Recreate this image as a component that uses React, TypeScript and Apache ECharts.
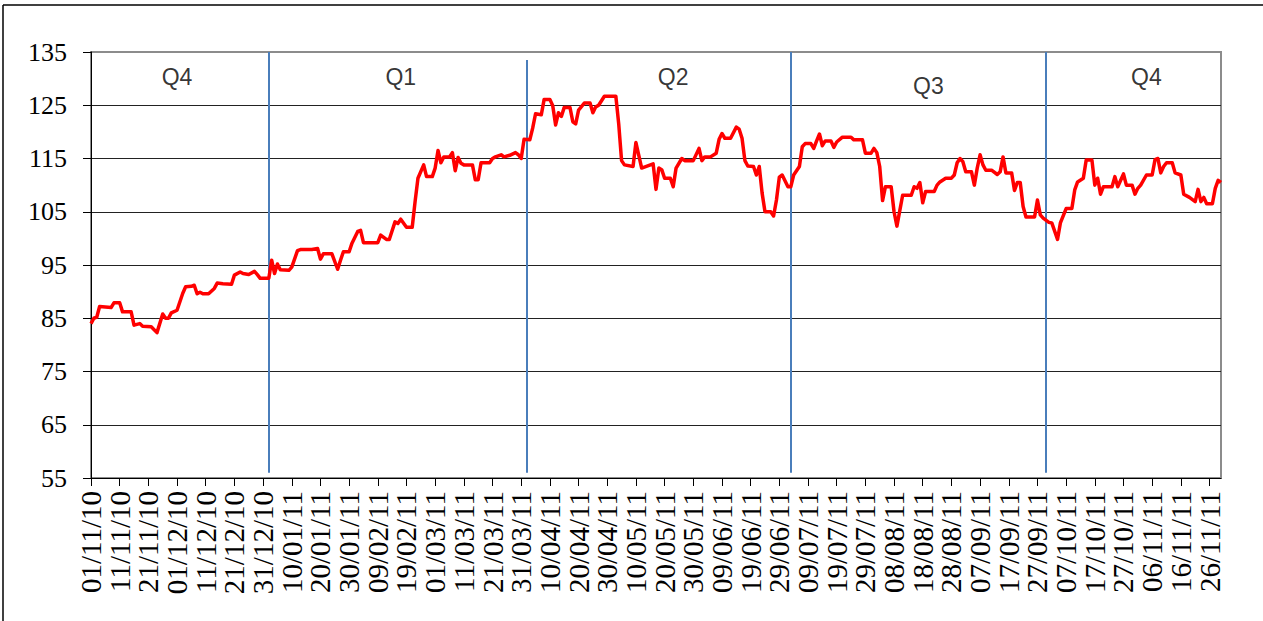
import React, { useEffect, useRef } from "react";
import * as echarts from "echarts";

// Axis: daily categories from 01/11/10, 395 days (to 30/11/11)
const START_DATE = Date.UTC(2010, 10, 1);
const DAY_COUNT = 395;
const pad = (n: number) => (n < 10 ? "0" + n : "" + n);
const categories: string[] = [];
for (let i = 0; i < DAY_COUNT; i++) {
  const d = new Date(START_DATE + i * 86400000);
  categories.push(
    pad(d.getUTCDate()) + "/" + pad(d.getUTCMonth() + 1) + "/" + pad(d.getUTCFullYear() % 100)
  );
}
const LABEL_EVERY = 10;

// Series: day index (from 01/11/10) and index value
const pointDays = [
  0, 1, 2, 3, 7, 8, 10, 11, 14, 15, 17, 18, 21, 23, 25, 26, 27, 28, 30, 32, 33, 35, 36, 37, 38, 39, 41, 43, 44, 46, 49,
  50, 52, 53, 55, 57, 58, 59, 62, 63, 64, 65, 66, 69, 70, 72, 73, 77, 79, 80, 81, 84, 86, 87, 88, 90, 91, 93, 94, 95,
  100, 101, 103, 104, 106, 107, 108, 110, 112, 113, 114, 116, 117, 119, 120, 121, 122, 123, 125, 126, 127, 128, 129,
  130, 133, 134, 135, 136, 139, 140, 141, 143, 144, 146, 148, 149, 150, 151, 153, 154, 155, 157, 158, 160, 161, 162,
  163, 164, 165, 167, 168, 169, 170, 172, 174, 175, 176, 177, 179, 183, 184, 185, 186, 189, 190, 192, 196, 197, 198,
  199, 200, 202, 203, 204, 206, 207, 210, 212, 213, 214, 216, 218, 219, 220, 221, 223, 225, 226, 227, 228, 229, 231,
  232, 233, 234, 235, 237, 238, 239, 240, 241, 243, 244, 245, 247, 248, 249, 251, 252, 253, 254, 255, 256, 258, 259,
  260, 262, 265, 266, 269, 270, 272, 273, 274, 275, 276, 277, 279, 280, 281, 283, 286, 287, 288, 289, 290, 291, 294,
  295, 296, 298, 300, 301, 302, 303, 304, 305, 307, 308, 309, 310, 311, 312, 314, 316, 317, 318, 319, 321, 322, 323,
  324, 325, 326, 329, 330, 331, 332, 334, 335, 337, 338, 340, 342, 343, 344, 346, 347, 349, 350, 351, 352, 353, 356,
  357, 358, 360, 361, 363, 364, 365, 366, 368, 370, 371, 372, 373, 374, 375, 377, 378, 380, 381, 383, 385, 386, 387,
  388, 389, 391, 392, 393, 394,
];
const pointValues = [
  84.0, 85.0, 85.2, 87.2, 87.0, 87.9, 87.9, 86.2, 86.2, 83.7, 84.0, 83.5, 83.4, 82.3, 85.8, 85.0, 85.0, 86.0, 86.5,
  89.7, 90.9, 91.0, 91.2, 89.6, 89.9, 89.6, 89.6, 90.6, 91.6, 91.5, 91.4,
  93.1, 93.7, 93.4, 93.2, 93.8, 93.2, 92.5, 92.5, 95.9, 93.4, 95.2, 94.1, 94.0, 94.6, 97.7, 97.9, 97.9, 98.1, 96.1,
  97.1, 97.1, 94.2, 95.9, 97.5, 97.5, 99.1, 101.3, 101.5, 99.2,
  99.2, 100.6, 99.8, 99.8, 103.1, 102.8, 103.6, 102.1, 102.1, 106.9, 111.3, 113.8, 111.6, 111.6, 113.2, 116.5, 114.2,
  115.3, 115.3, 116.1, 112.7, 115.2, 114.1,
  113.8, 113.8, 111.0, 111.0, 114.2, 114.2, 115.0, 115.3, 115.7, 115.3, 115.6, 116.1, 115.7, 115.0, 118.6, 118.5,
  120.7, 123.4, 123.2, 126.1, 126.1, 124.9, 121.3,
  123.6, 122.9, 124.6, 124.6, 121.9, 121.5, 124.1, 125.4, 125.4, 123.6, 124.7, 125.0, 126.7, 126.7, 121.5, 114.6,
  113.8, 113.5, 118.0, 113.2, 114.0, 109.2, 113.2,
  112.9, 111.3, 111.3, 109.7, 113.2, 115.0, 114.6, 114.6, 116.9, 114.6, 115.3, 115.3, 116.0, 118.6, 119.7, 118.8,
  118.8, 120.9, 120.5, 118.8, 114.6, 113.6, 113.5,
  111.9, 113.5, 108.5, 105.0, 105.0, 104.2, 107.2, 111.5, 111.9, 109.7, 109.7, 111.9, 113.5, 117.2, 117.8, 117.8,
  116.9, 118.3, 119.6, 117.4, 118.3, 118.3, 117.1,
  118.1, 119.0, 119.0, 118.5, 118.5, 116.0, 116.0, 116.9, 116.1, 113.5, 107.1, 109.7, 109.7, 105.0, 102.3, 108.1,
  108.1, 109.7, 109.4, 110.5, 106.7, 108.8, 108.8,
  110.0, 110.6, 111.3, 111.3, 111.9, 114.2, 115.0, 114.4, 112.5, 112.5, 110.0, 113.2, 115.7, 113.8, 112.8, 112.8,
  112.0, 112.5, 115.3, 112.3, 112.3, 109.0, 110.5,
  110.5, 106.0, 104.0, 104.0, 107.2, 104.4, 103.8, 103.0, 102.9, 99.8, 102.9, 105.6, 105.6, 109.1, 110.6, 111.3,
  114.7, 114.7, 110.0, 111.3, 108.3, 109.7, 109.7,
  111.6, 109.7, 112.1, 110.0, 110.0, 108.3, 109.4, 110.0, 111.9, 111.9, 114.8, 115.0, 112.3, 113.5, 114.2, 114.2,
  112.3, 111.9, 108.3, 107.7, 106.9, 109.2, 106.9,
  107.7, 106.5, 106.5, 109.4, 110.9, 110.5,
];

// Quarter boundaries (day index) and quarter labels
const quarterLineDays = [62, 152, 244, 333];
const quarterLineTop = [135, 133.5, 135, 135];
const quarterLineBottom = 56;
const quarterNames = ["Q4", "Q1", "Q2", "Q3", "Q4"];
const quarterLabelDays = [30, 108, 203, 292, 368];
const quarterLabelY = [130.3, 130.3, 130.3, 128.6, 130.3];

const yTickMin = 55;
const yTickMax = 135;
const yTickStep = 10;

const SERIF = "Times New Roman, Liberation Serif, DejaVu Serif, serif";
const SANS = "Liberation Sans";

export default function App() {
  const ref = useRef<HTMLDivElement>(null);
  useEffect(() => {
    if (!ref.current) return;
    const chart = echarts.init(ref.current, undefined, { renderer: "svg" });
    const lineData = pointDays.map((d, i) => [d, pointValues[i]]);
    const markData = quarterLineDays.map((d, i) => [
      { coord: [d, quarterLineTop[i]] },
      { coord: [d, quarterLineBottom] },
    ]);
    const qData = quarterNames.map((n, i) => ({
      name: n,
      value: [quarterLabelDays[i], quarterLabelY[i]],
    }));
    const every = (idx: number) => idx % LABEL_EVERY === 0;
    chart.setOption({
      animation: false,
      backgroundColor: "#ffffff",
      textStyle: { fontFamily: SERIF },
      grid: {
        left: 91,
        top: 52,
        right: 42,
        bottom: 143,
        show: true,
        borderColor: "#8c8c8c",
        borderWidth: 2,
        backgroundColor: "transparent",
      },
      xAxis: {
        type: "category",
        data: categories,
        boundaryGap: false,
        axisLine: { lineStyle: { color: "#000", width: 1 } },
        axisTick: {
          interval: every,
          length: 8,
          lineStyle: { color: "#000", width: 1 },
        },
        axisLabel: {
          interval: 0,
          hideOverlap: false,
          formatter: (v: string, idx: number) => (every(idx) ? v : ""),
          rotate: 90,
          margin: 13,
          color: "#000",
          fontFamily: SERIF,
          fontSize: 29,
        },
        splitLine: { show: false },
      },
      yAxis: {
        type: "value",
        min: yTickMin,
        max: yTickMax,
        interval: yTickStep,
        axisLine: { show: true, lineStyle: { color: "#000", width: 1 } },
        axisTick: { show: true, length: 8, lineStyle: { color: "#000", width: 1 } },
        axisLabel: {
          margin: 24,
          showMinLabel: true,
          showMaxLabel: true,
          color: "#000",
          fontFamily: SERIF,
          fontSize: 26,
        },
        splitLine: {
          show: true,
          showMaxLine: false,
          lineStyle: { color: "#222", width: 1 },
        },
      },
      graphic: [
        { type: "line", shape: { x1: 3, y1: 5, x2: 3, y2: 621 }, style: { stroke: "#000", lineWidth: 1.5 } },
        { type: "line", shape: { x1: 3, y1: 5, x2: 1263, y2: 5 }, style: { stroke: "#000", lineWidth: 1.5 } },
      ],
      series: [
        {
          type: "line",
          data: [],
          silent: true,
          markLine: {
            silent: true,
            symbol: "none",
            label: { show: false },
            lineStyle: { color: "#4a7ebb", width: 2, type: "solid" },
            data: markData,
          },
          z: 3,
        },
        {
          type: "line",
          data: lineData,
          showSymbol: false,
          symbol: "none",
          lineStyle: { color: "#ff0000", width: 3.5, join: "round" },
          itemStyle: { color: "#ff0000" },
          z: 5,
        },
        {
          type: "scatter",
          data: qData,
          symbolSize: 1,
          itemStyle: { color: "rgba(0,0,0,0)" },
          label: {
            show: true,
            position: "inside",
            formatter: (p: any) => p.name,
            color: "#000",
            fontFamily: SANS,
            fontSize: 23,
          },
          z: 6,
        },
      ],
    });
    return () => chart.dispose();
  }, []);
  return (
    <div
      ref={ref}
      style={{ position: "fixed", left: 0, top: 0, width: 1263, height: 621, background: "#fff" }}
    />
  );
}
